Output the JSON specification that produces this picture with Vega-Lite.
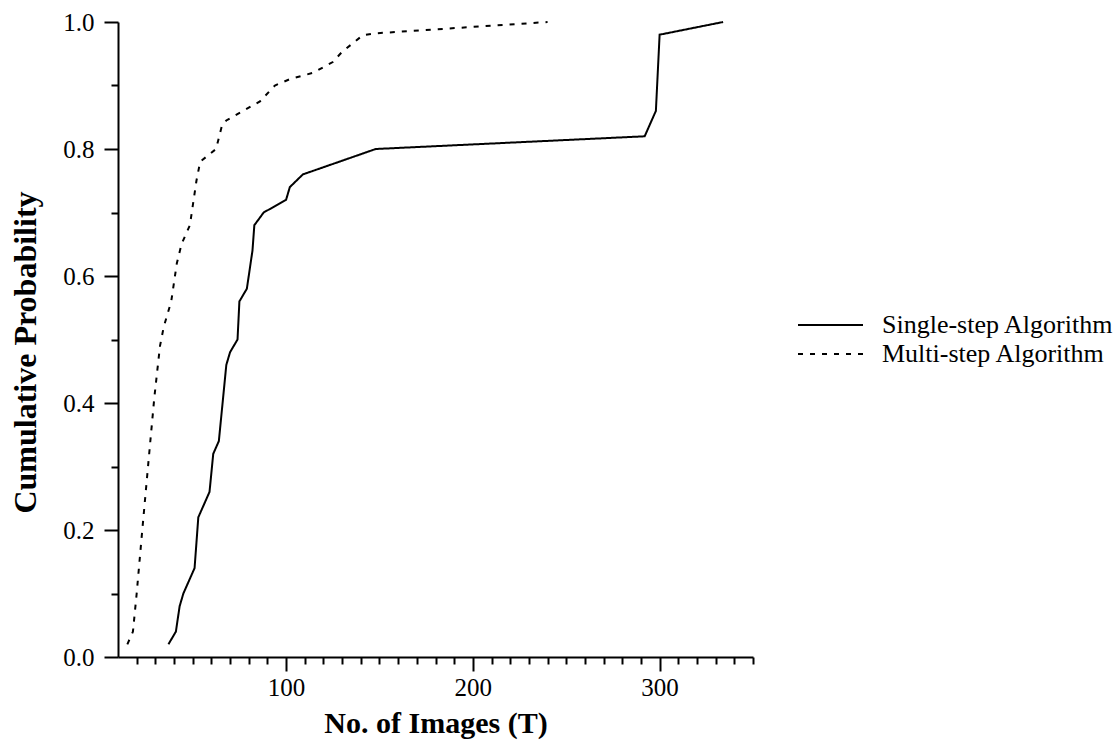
{
  "$schema": "https://vega.github.io/schema/vega-lite/v6.json",
  "width": 635,
  "height": 635,
  "autosize": "none",
  "padding": {"left": 118, "top": 22, "right": 364, "bottom": 85},
  "background": "white",
  "config": {"view": {"stroke": null}, "font": "Liberation Serif"},
  "data": {
    "values": [
      {"series": "Single-step Algorithm", "T": 37, "P": 0.02},
      {"series": "Single-step Algorithm", "T": 41, "P": 0.04},
      {"series": "Single-step Algorithm", "T": 43, "P": 0.08},
      {"series": "Single-step Algorithm", "T": 45, "P": 0.10},
      {"series": "Single-step Algorithm", "T": 51, "P": 0.14},
      {"series": "Single-step Algorithm", "T": 53, "P": 0.22},
      {"series": "Single-step Algorithm", "T": 59, "P": 0.26},
      {"series": "Single-step Algorithm", "T": 61, "P": 0.32},
      {"series": "Single-step Algorithm", "T": 64, "P": 0.34},
      {"series": "Single-step Algorithm", "T": 68, "P": 0.46},
      {"series": "Single-step Algorithm", "T": 70, "P": 0.48},
      {"series": "Single-step Algorithm", "T": 74, "P": 0.50},
      {"series": "Single-step Algorithm", "T": 75, "P": 0.56},
      {"series": "Single-step Algorithm", "T": 79, "P": 0.58},
      {"series": "Single-step Algorithm", "T": 82, "P": 0.64},
      {"series": "Single-step Algorithm", "T": 83, "P": 0.68},
      {"series": "Single-step Algorithm", "T": 88, "P": 0.70},
      {"series": "Single-step Algorithm", "T": 100, "P": 0.72},
      {"series": "Single-step Algorithm", "T": 102, "P": 0.74},
      {"series": "Single-step Algorithm", "T": 109, "P": 0.76},
      {"series": "Single-step Algorithm", "T": 148, "P": 0.80},
      {"series": "Single-step Algorithm", "T": 292, "P": 0.82},
      {"series": "Single-step Algorithm", "T": 298, "P": 0.86},
      {"series": "Single-step Algorithm", "T": 300, "P": 0.98},
      {"series": "Single-step Algorithm", "T": 334, "P": 1.0},
      {"series": "Multi-step Algorithm", "T": 15, "P": 0.02},
      {"series": "Multi-step Algorithm", "T": 18, "P": 0.04},
      {"series": "Multi-step Algorithm", "T": 20, "P": 0.10},
      {"series": "Multi-step Algorithm", "T": 23, "P": 0.20},
      {"series": "Multi-step Algorithm", "T": 27, "P": 0.33},
      {"series": "Multi-step Algorithm", "T": 29.5, "P": 0.41},
      {"series": "Multi-step Algorithm", "T": 32.5, "P": 0.49},
      {"series": "Multi-step Algorithm", "T": 34.5, "P": 0.52},
      {"series": "Multi-step Algorithm", "T": 38.5, "P": 0.56},
      {"series": "Multi-step Algorithm", "T": 41.5, "P": 0.62},
      {"series": "Multi-step Algorithm", "T": 44, "P": 0.65},
      {"series": "Multi-step Algorithm", "T": 48.5, "P": 0.68},
      {"series": "Multi-step Algorithm", "T": 52, "P": 0.75},
      {"series": "Multi-step Algorithm", "T": 54, "P": 0.78},
      {"series": "Multi-step Algorithm", "T": 62.5, "P": 0.80},
      {"series": "Multi-step Algorithm", "T": 65.5, "P": 0.835},
      {"series": "Multi-step Algorithm", "T": 68, "P": 0.845},
      {"series": "Multi-step Algorithm", "T": 77, "P": 0.86},
      {"series": "Multi-step Algorithm", "T": 86, "P": 0.875},
      {"series": "Multi-step Algorithm", "T": 94, "P": 0.90},
      {"series": "Multi-step Algorithm", "T": 102, "P": 0.91},
      {"series": "Multi-step Algorithm", "T": 114.5, "P": 0.92},
      {"series": "Multi-step Algorithm", "T": 125, "P": 0.937},
      {"series": "Multi-step Algorithm", "T": 130, "P": 0.953},
      {"series": "Multi-step Algorithm", "T": 141, "P": 0.979},
      {"series": "Multi-step Algorithm", "T": 147, "P": 0.982},
      {"series": "Multi-step Algorithm", "T": 240, "P": 1.0}
    ]
  },
  "mark": {"type": "line", "color": "black", "strokeWidth": 2},
  "encoding": {
    "x": {
      "field": "T",
      "type": "quantitative",
      "scale": {"domain": [10, 350], "nice": false, "zero": false},
      "axis": {
        "title": "No. of Images (T)",
        "titleFont": "Liberation Serif",
        "titleFontSize": 30,
        "titleFontWeight": "bold",
        "titleColor": "black",
        "titlePadding": 8,
        "values": [20, 30, 40, 50, 60, 70, 80, 90, 100, 110, 120, 130, 140, 150, 160, 170, 180, 190, 200, 210, 220, 230, 240, 250, 260, 270, 280, 290, 300, 310, 320, 330, 340, 350],
        "labelExpr": "datum.value % 100 === 0 ? datum.label : ''",
        "labelOverlap": false,
        "labelFont": "Liberation Serif",
        "labelFontSize": 25,
        "labelColor": "black",
        "labelPadding": 4,
        "tickSize": {"condition": {"test": "datum.value % 100 === 0", "value": 14}, "value": 7},
        "tickWidth": 2,
        "tickColor": "black",
        "domainColor": "black",
        "domainWidth": 2,
        "grid": false
      }
    },
    "y": {
      "field": "P",
      "type": "quantitative",
      "scale": {"domain": [0, 1], "nice": false},
      "axis": {
        "title": "Cumulative Probability",
        "titleFont": "Liberation Serif",
        "titleFontSize": 32,
        "titleFontWeight": "bold",
        "titleColor": "black",
        "titlePadding": 20,
        "titleY": 330,
        "values": [0, 0.1, 0.2, 0.3, 0.4, 0.5, 0.6, 0.7, 0.8, 0.9, 1.0],
        "format": ".1f",
        "labelExpr": "round(datum.value * 10) % 2 === 0 ? datum.label : ''",
        "labelOverlap": false,
        "labelFont": "Liberation Serif",
        "labelFontSize": 25,
        "labelColor": "black",
        "labelPadding": 10,
        "tickSize": {"condition": {"test": "round(datum.value * 10) % 2 === 0", "value": 14}, "value": 7},
        "tickWidth": 2,
        "tickColor": "black",
        "domainColor": "black",
        "domainWidth": 2,
        "grid": false
      }
    },
    "strokeDash": {
      "field": "series",
      "type": "nominal",
      "scale": {"domain": ["Single-step Algorithm", "Multi-step Algorithm"], "range": [[1, 0], [5, 7]]},
      "legend": {
        "title": null,
        "orient": "none",
        "legendX": 679,
        "legendY": 289,
        "symbolType": "stroke",
        "symbolSize": 4225,
        "symbolStrokeWidth": 2,
        "symbolStrokeColor": "black",
        "labelFont": "Liberation Serif",
        "labelFontSize": 26,
        "labelColor": "black",
        "labelLimit": 400,
        "labelOffset": 18,
        "clipHeight": 28,
        "rowPadding": 1
      }
    }
  }
}
